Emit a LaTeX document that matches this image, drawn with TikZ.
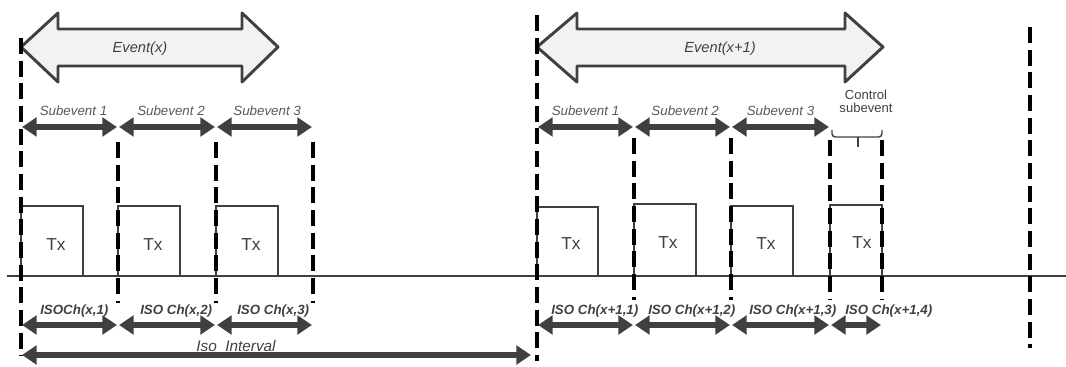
\documentclass[tikz,border=0pt]{standalone}
\usepackage{fontspec}
\setmainfont{Liberation Sans}
\usetikzlibrary{arrows.meta}
\definecolor{dgray}{HTML}{404040}
\definecolor{mgray}{HTML}{595959}
\definecolor{lgray}{HTML}{F2F2F2}
\begin{document}
\begin{tikzpicture}[x=0.75pt,y=-0.75pt,>={Triangle[length=11pt,width=14pt,sep=.8pt]},
		cutline/.style={draw=black,line width=2.6pt,dash pattern=on 12pt off 5pt},
		span/.style={<->,draw=dgray,line width=4.5pt},
		evbody/.style={draw=dgray,fill=lgray,line width=2.2pt,line join=round},
		txbox/.style={draw=dgray,line width=1.3pt},
		evlabel/.style={font=\fontsize{11}{13}\selectfont\itshape,text=dgray},
		txlabel/.style={font=\fontsize{13}{15}\selectfont,text=dgray},
		sublabel/.style={font=\fontsize{10}{12}\selectfont\itshape,text=mgray,inner sep=0pt},
		chlabel/.style={font=\fontsize{10}{12}\selectfont\bfseries\itshape,text=dgray,inner sep=0pt}]
		\useasboundingbox (0,0) rectangle (1066,367);

		% time points
		\coordinate (a0) at (21,0);
		\coordinate (a1) at (118,0);
		\coordinate (a2) at (216,0);
		\coordinate (a3) at (313,0);
		\coordinate (b0) at (537,0);
		\coordinate (b1) at (634,0);
		\coordinate (b2) at (731,0);
		\coordinate (b3) at (830,0);
		\coordinate (b4) at (882,0);
		\coordinate (sub) at (0,127);
		\coordinate (ch) at (0,325);
		\coordinate (iso) at (0,355);

		% events
		\draw[evbody] (21,47) -- (58,13) -- (58,29) -- (242,29) -- (242,13) -- (278,47)
			-- (242,82) -- (242,66) -- (58,66) -- (58,82) -- cycle;
		\draw[evbody] (537,47) -- (577,13) -- (577,29) -- (845,29) -- (845,13) -- (883,47)
			-- (845,82) -- (845,66) -- (577,66) -- (577,82) -- cycle;
		\node[evlabel] (ev1) at (140,49) {Event(x)};
		\node[evlabel] (ev2) at (720,49) {Event(x+1)};

		% time line and Tx slots
		\draw[dgray,line width=1.6pt] (7,276) -- (1066,276);
		\draw[txbox] (21,206) rectangle (83,276);
		\draw[txbox] (118,206) rectangle (180,276);
		\draw[txbox] (216,206) rectangle (278,276);
		\draw[txbox] (537,207) rectangle (598,276);
		\draw[txbox] (634,204) rectangle (696,276);
		\draw[txbox] (731,206) rectangle (793,276);
		\draw[txbox] (830,205) rectangle (882,276);
		\node[txlabel] (tx1) at (56,245) {Tx};
		\node[txlabel] (tx2) at (153,245) {Tx};
		\node[txlabel] (tx3) at (251,245) {Tx};
		\node[txlabel] (tx4) at (571,244) {Tx};
		\node[txlabel] (tx5) at (668,243) {Tx};
		\node[txlabel] (tx6) at (766,244) {Tx};
		\node[txlabel] (tx7) at (862,243) {Tx};

		% anchor points
		\draw[cutline] (21,38) -- (21,356);
		\draw[cutline] (118,142) -- (118,303);
		\draw[cutline] (216,142) -- (216,303);
		\draw[cutline] (313,142) -- (313,303);
		\draw[cutline] (537,15) -- (537,361);
		\draw[cutline] (634,138) -- (634,300);
		\draw[cutline] (731,138) -- (731,300);
		\draw[cutline] (830,140) -- (830,300);
		\draw[cutline] (882,140) -- (882,300);
		\draw[cutline] (1030,27) -- (1030,348);

		% subevents
		\draw[span] (a0|-sub) -- node[sublabel,above=6pt,xshift=3pt] {Subevent 1} (a1|-sub);
		\draw[span] (a1|-sub) -- node[sublabel,above=6pt,xshift=3pt] {Subevent 2} (a2|-sub);
		\draw[span] (a2|-sub) -- node[sublabel,above=6pt,xshift=2pt] {Subevent 3} (a3|-sub);
		\draw[span] (b0|-sub) -- node[sublabel,above=6pt] {Subevent 1} (b1|-sub);
		\draw[span] (b1|-sub) -- node[sublabel,above=6pt,xshift=2pt] {Subevent 2} (b2|-sub);
		\draw[span] (b2|-sub) -- node[sublabel,above=6pt] {Subevent 3} (b3|-sub);
		\draw[dgray,line width=1.1pt,rounded corners=2.5pt]
			(832,130) -- (832,137) -- (882,137) -- (882,130);
		\draw[dgray,line width=1.1pt] (858,137) -- (858,147);
		\node[font=\fontsize{9.8}{10}\selectfont,text=dgray,align=center] (ctrl) at (866,101) {Control\\subevent};

		% channels
		\node[chlabel,anchor=base west] (ch1) at (40,314) {ISOCh(x,1)};
		\node[chlabel,anchor=base west] (ch2) at (140,314) {ISO Ch(x,2)};
		\node[chlabel,anchor=base west] (ch3) at (237,314) {ISO Ch(x,3)};
		\node[chlabel,anchor=base west] (ch4) at (551,314) {ISO Ch(x+1,1)};
		\node[chlabel,anchor=base west] (ch5) at (648,314) {ISO Ch(x+1,2)};
		\node[chlabel,anchor=base west] (ch6) at (749,314) {ISO Ch(x+1,3)};
		\node[chlabel,anchor=base west] (ch7) at (845,314) {ISO Ch(x+1,4)};
		\draw[span] (a0|-ch) -- (a1|-ch);
		\draw[span] (a1|-ch) -- (a2|-ch);
		\draw[span] (a2|-ch) -- (a3|-ch);
		\draw[span] (b0|-ch) -- (b1|-ch);
		\draw[span] (b1|-ch) -- (b2|-ch);
		\draw[span] (b2|-ch) -- (b3|-ch);
		\draw[span] (b3|-ch) -- (b4|-ch);

		% interval
		\node[font=\fontsize{11.5}{13}\selectfont\itshape,text=dgray,anchor=base] (isolabel) at (236,351) {Iso\_Interval};
		\coordinate (isoend) at (532,355);
		\draw[span] (a0|-iso) -- (isoend);
	\end{tikzpicture}
\end{document}
